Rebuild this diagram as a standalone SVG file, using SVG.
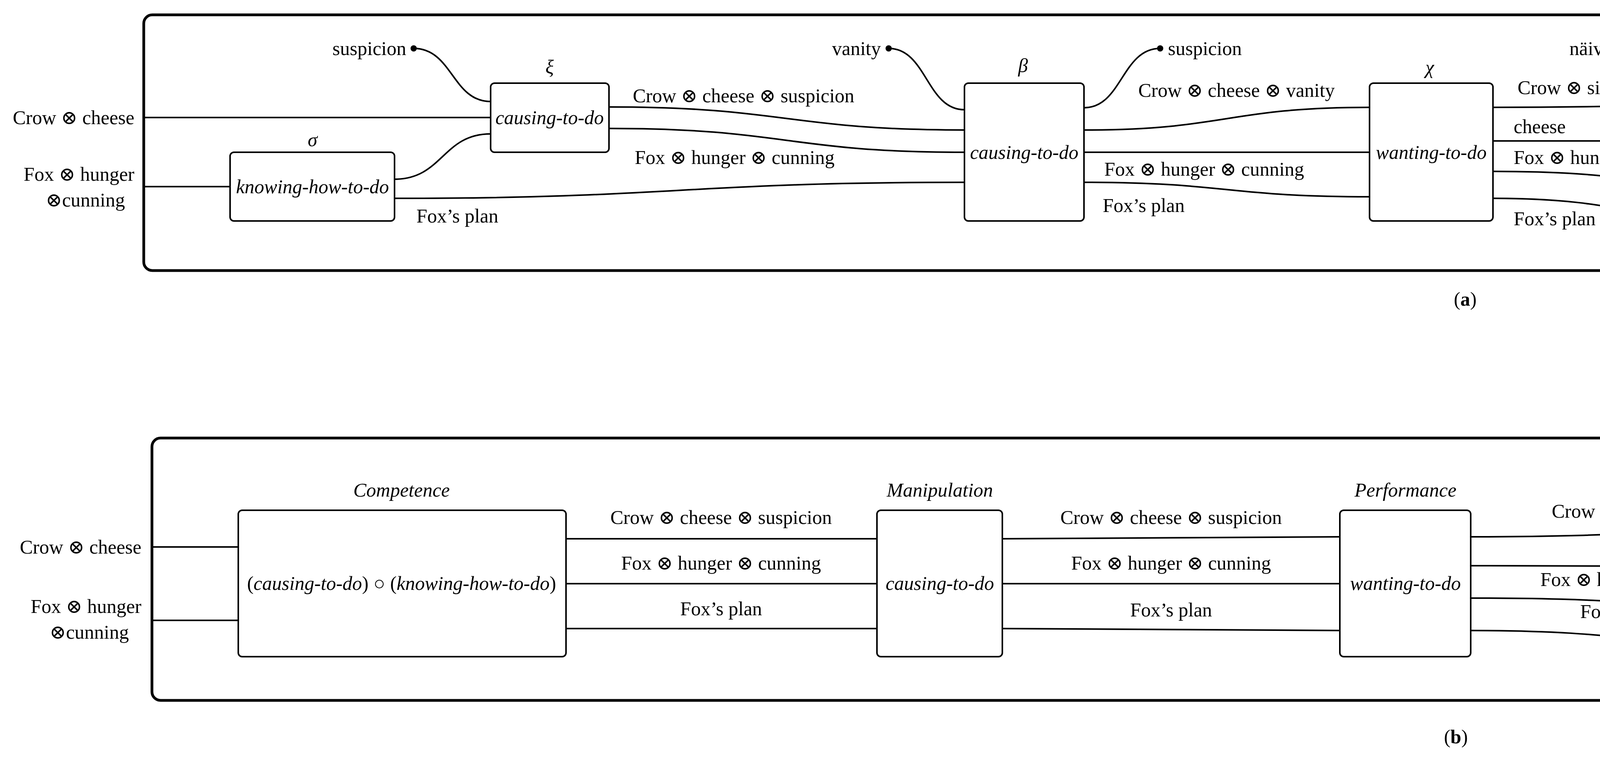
<svg xmlns="http://www.w3.org/2000/svg" width="6392" height="1939" viewBox="0 0 6392 1939">
<style>
text{font-family:"Liberation Serif","DejaVu Serif",serif;font-size:50px;fill:#000;dominant-baseline:central}
.i{font-style:italic}
.m{text-anchor:middle}
.e{text-anchor:end}
.box{fill:#fff;stroke:#000;stroke-width:4}
.frame{fill:none;stroke:#000;stroke-width:7}
.w{fill:none;stroke:#000;stroke-width:4}
.dot{fill:#000}
</style>
<rect width="6392" height="1939" fill="#fff"/>
<rect class="frame" x="368" y="38" width="5635" height="655" rx="22"/>
<rect class="frame" x="389" y="1122" width="5593" height="672" rx="22"/>
<g id="connectors">
<path class="w" d="M368 301H1256M368 478H589"/>
<path class="w" d="M1059 124C1158 124 1158 260 1256 260"/>
<path class="w" d="M1010 459C1133 459 1133 343 1256 343"/>
<path class="w" d="M1010 508C1740 508 1740 467 2469 467"/>
<path class="w" d="M1559 274C2014 274 2014 333 2469 333"/>
<path class="w" d="M1559 329C2014 329 2014 390 2469 390"/>
<path class="w" d="M2275 124C2372 124 2372 281 2469 281"/>
<path class="w" d="M2775 276C2872 276 2872 124 2970 124"/>
<path class="w" d="M2775 333C3140 333 3140 275 3506 275"/>
<path class="w" d="M2775 390H3506"/>
<path class="w" d="M2775 467C3140 467 3140 504 3506 504"/>
<path class="w" d="M3822 275C4186 275 4186 267 4550 267"/>
<path class="w" d="M3822 361H4550"/>
<path class="w" d="M3822 439C4186 439 4186 479 4550 479"/>
<path class="w" d="M3822 508C4186 508 4186 576 4550 576"/>
<path class="w" d="M4184 124C4367 124 4367 189 4550 189"/>
<path class="w" d="M4856 181C5040 181 5040 125 5225 125"/>
<path class="w" d="M4856 259C5215 259 5215 260 5574 260"/>
<path class="w" d="M4856 362C5215 362 5215 343 5574 343"/>
<path class="w" d="M4856 480C5040 480 5040 512 5225 512"/>
<path class="w" d="M4856 576C5040 576 5040 617 5225 617"/>
<path class="w" d="M5745 260H6003M5745 343H6003"/>
<circle class="dot" cx="1059" cy="124" r="8"/>
<circle class="dot" cx="2275" cy="124" r="8"/>
<circle class="dot" cx="2970" cy="124" r="8"/>
<circle class="dot" cx="4184" cy="124" r="8"/>
<circle class="dot" cx="5225" cy="125" r="8"/>
<circle class="dot" cx="5225" cy="512" r="8"/>
<circle class="dot" cx="5225" cy="617" r="8"/>
<path class="w" d="M389 1401H610M389 1589H610"/>
<path class="w" d="M1449 1380H2245M1449 1495H2245M1449 1610H2245"/>
<path class="w" d="M2566 1380C2998 1380 2998 1375 3430 1375M2566 1495H3430M2566 1610C2998 1610 2998 1615 3430 1615"/>
<path class="w" d="M3765 1375C4197 1375 4197 1356 4629 1356M3765 1449C4197 1449 4197 1451 4629 1451M3765 1532C4197 1532 4197 1555 4629 1555M3765 1615C4197 1615 4197 1659 4629 1659"/>
<path class="w" d="M4951 1330C5283 1330 5283 1361 5616 1361M4951 1659C5283 1659 5283 1629 5616 1629"/>
<path class="w" d="M5798 1400H5982M5798 1590H5982"/>
</g>
<g id="labels-a">
<text class="e" x="344" y="301">Crow ⊗ cheese</text>
<text class="e" x="344" y="446">Fox ⊗ hunger</text>
<text class="e" x="320" y="512">⊗cunning</text>
<text class="e" x="1040" y="124">suspicion</text>
<text x="1620" y="245">Crow ⊗ cheese ⊗ suspicion</text>
<text x="1625" y="403">Fox ⊗ hunger ⊗ cunning</text>
<text x="1066" y="553">Fox’s plan</text>
<text class="e" x="2255" y="124">vanity</text>
<text x="2990" y="124">suspicion</text>
<text x="2914" y="231">Crow ⊗ cheese ⊗ vanity</text>
<text x="2827" y="433">Fox ⊗ hunger ⊗ cunning</text>
<text x="2823" y="526">Fox’s plan</text>
<text class="e" x="4165" y="124">näivety</text>
<text x="3885" y="224">Crow ⊗ sing ⊗ vanity</text>
<text x="3875" y="324">cheese</text>
<text x="3875" y="403">Fox ⊗ hunger ⊗ cunning</text>
<text x="3875" y="560">Fox’s plan</text>
<text x="5250" y="125">sing</text>
<text x="4910" y="211">Crow ⊗ näivety</text>
<text x="4910" y="403">Fox ⊗ cheese ⊗ cunning</text>
<text x="5250" y="512">hunger</text>
<text x="5250" y="617">Fox’s plan</text>
<text x="6029" y="260">Crow ⊗ näivety</text>
<text x="6029" y="341">Fox ⊗ cunning</text>
<text class="m" x="3751" y="766">(<tspan font-weight="bold">a</tspan>)</text>
</g>
<g id="node-sigma"><rect class="box" x="589" y="390" width="421" height="176" rx="10"/><text class="i m" x="800" y="358">σ</text><text class="i m" x="800" y="478">knowing-how-to-do</text></g>
<g id="node-xi"><rect class="box" x="1256" y="213" width="303" height="177" rx="10"/><text class="i m" x="1407" y="172">ξ</text><text class="i m" x="1407" y="301">causing-to-do</text></g>
<g id="node-beta"><rect class="box" x="2469" y="213" width="306" height="353" rx="10"/><text class="i m" x="2619" y="168">β</text><text class="i m" x="2622" y="390">causing-to-do</text></g>
<g id="node-chi"><rect class="box" x="3506" y="213" width="316" height="353" rx="10"/><text class="i m" x="3660" y="172">χ</text><text class="i m" x="3664" y="390">wanting-to-do</text></g>
<g id="node-psi"><rect class="box" x="4550" y="125" width="306" height="530" rx="10"/><text class="i m" x="4703" y="77">ψ</text><text class="i m" x="4703" y="390">causing-to-do</text></g>
<g id="node-phi"><rect class="box" x="5574" y="213" width="171" height="177" rx="10"/><text class="i m" x="5658" y="168">ϕ</text><text class="i m" x="5660" y="301">being</text></g>
<g id="labels-b">
<text class="e" x="362" y="1401">Crow ⊗ cheese</text>
<text class="e" x="362" y="1553">Fox ⊗ hunger</text>
<text class="e" x="330" y="1619">⊗cunning</text>
<text class="m" x="1846" y="1325">Crow ⊗ cheese ⊗ suspicion</text>
<text class="m" x="1846" y="1442">Fox ⊗ hunger ⊗ cunning</text>
<text class="m" x="1846" y="1559">Fox’s plan</text>
<text class="m" x="2998" y="1325">Crow ⊗ cheese ⊗ suspicion</text>
<text class="m" x="2998" y="1442">Fox ⊗ hunger ⊗ cunning</text>
<text class="m" x="2998" y="1562">Fox’s plan</text>
<text class="m" x="4199" y="1309">Crow ⊗ sing ⊗ vanity</text>
<text class="m" x="4252" y="1406">cheese</text>
<text class="m" x="4199" y="1484">Fox ⊗ hunger ⊗ cunning</text>
<text class="m" x="4150" y="1566">Fox’s plan</text>
<text class="m" x="5283" y="1290">Crow ⊗ näivety</text>
<text class="m" x="5283" y="1572">Fox ⊗ cheese ⊗ cunning</text>
<text x="6008" y="1396">Crow ⊗ näivety</text>
<text x="6008" y="1586">Fox ⊗ cunning</text>
<text class="m" x="3727" y="1887">(<tspan font-weight="bold">b</tspan>)</text>
</g>
<g id="node-competence"><rect class="box" x="610" y="1307" width="839" height="375" rx="10"/><text class="i m" x="1028" y="1255">Competence</text><text class="m" x="1028" y="1494">(<tspan class="i">causing-to-do</tspan>) ○ (<tspan class="i">knowing-how-to-do</tspan>)</text></g>
<g id="node-manipulation"><rect class="box" x="2245" y="1307" width="321" height="375" rx="10"/><text class="i m" x="2406" y="1255">Manipulation</text><text class="i m" x="2406" y="1494">causing-to-do</text></g>
<g id="node-performance"><rect class="box" x="3430" y="1307" width="335" height="375" rx="10"/><text class="i m" x="3598" y="1255">Performance</text><text class="i m" x="3598" y="1494">wanting-to-do</text></g>
<g id="node-action"><rect class="box" x="4629" y="1261" width="322" height="468" rx="10"/><text class="i m" x="4790" y="1219">Action</text><text class="i m" x="4790" y="1494">causing-to-do</text></g>
<g id="node-sanction"><rect class="box" x="5616" y="1261" width="182" height="468" rx="10"/><text class="i m" x="5707" y="1219">Sanction</text><text class="i m" x="5707" y="1494">being</text></g>
</svg>
